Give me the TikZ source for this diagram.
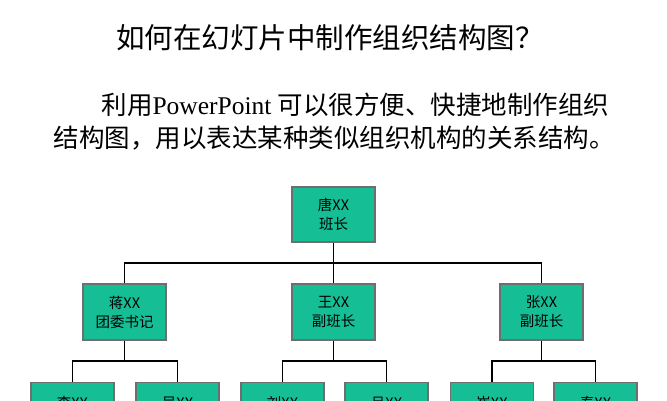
\documentclass[tikz,border=0pt]{standalone}
\usepackage{fontspec}
\setmainfont{Liberation Serif}
\newfontfamily\cjk{Noto Sans CJK SC}
\definecolor{boxg}{RGB}{22,190,150}
\definecolor{boxb}{RGB}{110,110,110}
\begin{document}
\begin{tikzpicture}[x=1pt,y=-1pt,
  bx/.style={draw=boxb,line width=1.2pt,fill=boxg,inner sep=0pt,font=\cjk\fontsize{14.5}{19}\selectfont,align=center},
  ln/.style={line width=1.4pt,black}]
\useasboundingbox (0,0) rectangle (667,400);
\node[font=\cjk\fontsize{28.5}{30}\selectfont] (title) at (330,38) {如何在幻灯片中制作组织结构图？};
\node[font=\cjk\fontsize{25.5}{30}\selectfont,anchor=west] (p1) at (98,105) {利用\rmfamily PowerPoint \cjk 可以很方便、快捷地制作组织};
\node[font=\cjk\fontsize{25.5}{30}\selectfont,anchor=west] (p2) at (50,138) {结构图，用以表达某种类似组织机构的关系结构。};
\begin{scope}
\clip (0,0) rectangle (667,400);
\node[bx,minimum width=83,minimum height=55] (top) at (333.5,214.5) {唐XX\\班长};
\node[bx,minimum width=83,minimum height=56] (m1) at (124.5,312) {蒋XX\\团委书记};
\node[bx,minimum width=83,minimum height=56] (m2) at (333.5,312) {王XX\\副班长};
\node[bx,minimum width=83,minimum height=56] (m3) at (541.5,312) {张XX\\副班长};
\foreach \n/\x/\t in {b1/72.5/李XX,b2/177.5/吴XX,b3/282.5/刘XX,b4/386.5/吕XX,b5/492/崔XX,b6/595.5/秦XX}{
  \node[bx,minimum width=83,minimum height=56,anchor=north] (\n) at (\x,382) {\rule{0pt}{20pt}\t\\\strut};
}
\coordinate (h0) at (333.5,263);
\draw[ln] (top.south) -- (h0);
\draw[ln] (m1.north) |- (m3.north |- h0) -- (m3.north);
\draw[ln] (h0) -- (m2.north);
\foreach \m/\a/\b in {m1/b1/b2,m2/b3/b4,m3/b5/b6}{
  \draw[ln] (\m.south) -- (\m.south |- 0,361);
  \draw[ln] (\a.north) |- (\b.north |- 0,361) -- (\b.north);
}
\end{scope}
\end{tikzpicture}
\end{document}
